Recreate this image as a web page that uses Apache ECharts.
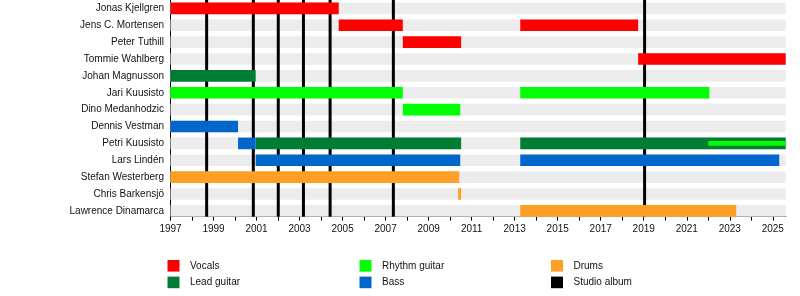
<!DOCTYPE html>
<html>
<head>
<meta charset="utf-8">
<script src="https://cdn.jsdelivr.net/npm/echarts@6/dist/echarts.min.js"></script>
<style>
html,body{margin:0;padding:0;background:#fff;}
#chart{width:800px;height:296px;}
</style>
</head>
<body>
<div id="chart"></div>
<script>
// ---- data ----
const members = ['Jonas Kjellgren','Jens C. Mortensen','Peter Tuthill','Tommie Wahlberg','Johan Magnusson','Jari Kuusisto','Dino Medanhodzic','Dennis Vestman','Petri Kuusisto','Lars Lindén','Stefan Westerberg','Chris Barkensjö','Lawrence Dinamarca'];
const yearMin = 1997;
const yearMax = 2025.6;
const labelYears = [1997,1999,2001,2003,2005,2007,2009,2011,2013,2015,2017,2019,2021,2023,2025];
const vocals = [['Jonas Kjellgren',1997,2004.82],['Jens C. Mortensen',2004.82,2007.8],['Jens C. Mortensen',2013.26,2018.74],['Peter Tuthill',2007.8,2010.51],['Tommie Wahlberg',2018.74,2025.6]];
const leadGuitar = [['Johan Magnusson',1997,2000.96],['Petri Kuusisto',2000.96,2010.51],['Petri Kuusisto',2013.26,2025.6]];
const rhythmGuitar = [['Jari Kuusisto',1997,2007.8],['Jari Kuusisto',2013.26,2022.05],['Dino Medanhodzic',2007.8,2010.47]];
const rhythmGuitarSecondary = [['Petri Kuusisto',2022.0,2025.6]];
const bass = [['Dennis Vestman',1997,2000.14],['Petri Kuusisto',2000.14,2000.96],['Lars Lindén',2000.96,2010.47],['Lars Lindén',2013.26,2025.3]];
const drums = [['Stefan Westerberg',1997,2010.42],['Chris Barkensjö',2010.37,2010.51],['Lawrence Dinamarca',2013.26,2023.3]];
const studioAlbums = [1998.68,2000.85,2002.01,2003.18,2004.42,2007.36,2019.04];

// ---- styles ----
const colors = {
  'Vocals':'#ff0000','Lead guitar':'#007d35','Rhythm guitar':'#00ff00',
  'Bass':'#0066cc','Drums':'#ff9f26','Studio album':'#000000'
};
const BAR_RATIO = 0.69;
const THIN_RATIO = 0.27;
const AXIS_OFFSET = -2.6;
const FONT = 'Liberation Sans, Arial, sans-serif';

function toRows(list){ return list.map(d => [members.indexOf(d[0]), d[1], d[2]]); }

function barRender(ratio){
  return function(params, api){
    const r = api.value(0);
    const s = api.coord([api.value(1), r]);
    const e = api.coord([api.value(2), r]);
    const h = api.size([0,1])[1] * ratio;
    return {type:'rect', shape:{x:s[0], y:s[1]-h/2, width:e[0]-s[0], height:h}, style:{fill: api.visual('color')}};
  };
}
function roleSeries(name, list, ratio){
  return {
    type:'custom', name:name, renderItem: barRender(ratio), z:4,
    itemStyle:{color: colors[name]},
    encode:{x:[1,2], y:0}, data: toRows(list), animation:false
  };
}

const chart = echarts.init(document.getElementById('chart'), null, {renderer:'canvas'});
const legendBase = {
  orient:'vertical', top:260, padding:0, itemWidth:12, itemHeight:11.6, itemGap:5,
  icon:'rect', selectedMode:false,
  textStyle:{fontSize:10, fontFamily:FONT, color:'#111', padding:[0,0,0,5.5]}
};
chart.setOption({
  animation:false,
  grid:{left:170.5, right:14.3, top:-1.7, bottom:76.7, containLabel:false},
  legend:[
    Object.assign({}, legendBase, {left:167.5, data:['Vocals','Lead guitar']}),
    Object.assign({}, legendBase, {left:359.5, data:['Rhythm guitar','Bass']}),
    Object.assign({}, legendBase, {left:551, data:['Drums','Studio album']})
  ],
  xAxis:{
    type:'value', min:yearMin, max:yearMax, interval:1, offset:AXIS_OFFSET,
    splitLine:{show:false},
    axisLine:{show:true, lineStyle:{color:'#000', width:1}},
    axisTick:{show:true, length:4, lineStyle:{color:'#000'}},
    axisLabel:{margin:8, fontSize:10, fontFamily:FONT, color:'#111',
      showMinLabel:true, showMaxLabel:false, hideOverlap:false,
      formatter: v => labelYears.indexOf(v) >= 0 ? String(v) : ''}
  },
  yAxis:{
    type:'category', data:members, inverse:true,
    axisLine:{show:true, lineStyle:{color:'#000', width:1}},
    axisTick:{show:false}, splitLine:{show:false},
    axisLabel:{fontSize:10, fontFamily:FONT, color:'#111', margin:6.5}
  },
  series:[
    {
      type:'custom', name:'background', z:1, silent:true,
      encode:{x:-1, y:0},
      data: members.map((m,i)=>[i]),
      renderItem:function(params, api){
        const r = api.value(0);
        const s = api.coord([yearMin, r]);
        const e = api.coord([yearMax, r]);
        const h = api.size([0,1])[1]*BAR_RATIO;
        return {type:'rect', shape:{x:s[0], y:s[1]-h/2, width:e[0]-s[0], height:h}, style:{fill:'#ececec'}};
      }
    },
    {
      type:'custom', name:'Studio album', z:2, itemStyle:{color:colors['Studio album']},
      encode:{x:0}, data: studioAlbums.map(v=>[v]),
      renderItem:function(params, api){
        const cs = params.coordSys;
        const p = api.coord([api.value(0), 0]);
        return {type:'rect', shape:{x:p[0]-1.5, y:cs.y, width:3, height:cs.height + AXIS_OFFSET}, style:{fill:'#000'}};
      }
    },
    roleSeries('Vocals', vocals, BAR_RATIO),
    roleSeries('Lead guitar', leadGuitar, BAR_RATIO),
    roleSeries('Rhythm guitar', rhythmGuitar, BAR_RATIO),
    roleSeries('Bass', bass, BAR_RATIO),
    roleSeries('Drums', drums, BAR_RATIO),
    Object.assign(roleSeries('Rhythm guitar', rhythmGuitarSecondary, THIN_RATIO), {z:5})
  ]
});
</script>
</body>
</html>
